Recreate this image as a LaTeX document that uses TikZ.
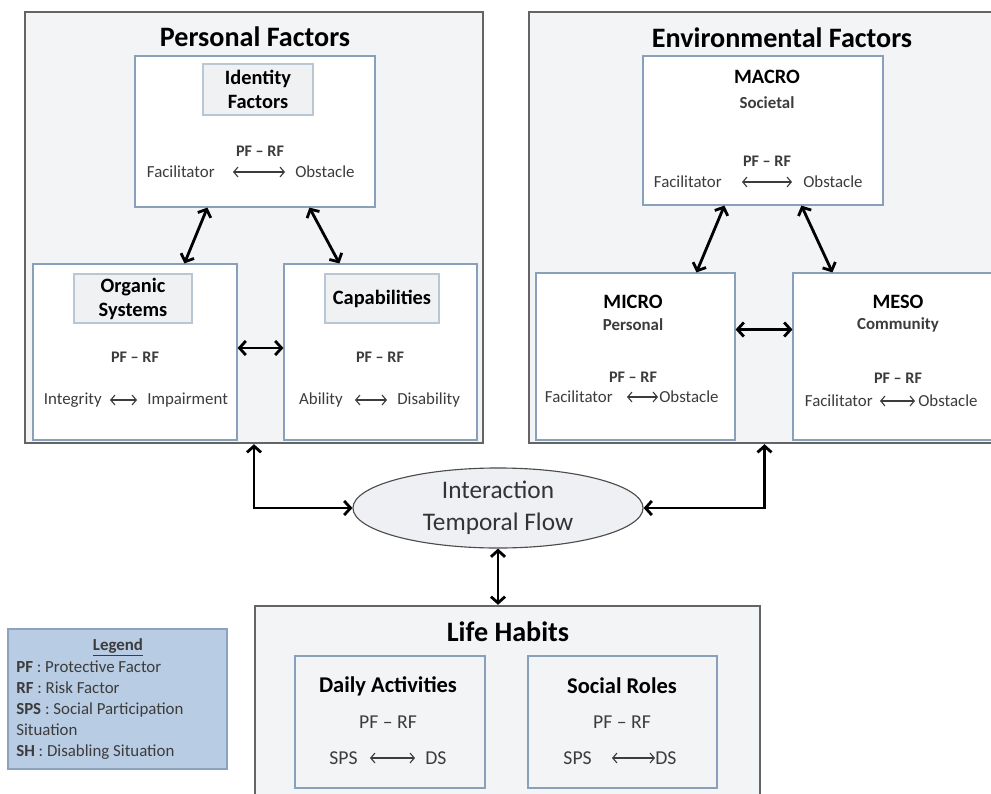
\documentclass[tikz,border=0pt]{standalone}
\usepackage{fontspec}
\setmainfont{Carlito}
\usepackage{tikz}
\usetikzlibrary{
  positioning,
  shapes.geometric,
  arrows.meta,
  calc
}
\usepackage{xcolor}
\definecolor{panelfill}{RGB}{243,244,246}
\definecolor{panelline}{RGB}{100,100,100}
\definecolor{boxline}{RGB}{137,160,186}
\definecolor{tagfill}{RGB}{240,241,243}
\definecolor{tagline}{RGB}{185,198,212}
\definecolor{legendfill}{RGB}{184,204,228}
\definecolor{legendline}{RGB}{140,162,190}
\definecolor{flowfill}{RGB}{238,240,243}
\definecolor{txtgray}{RGB}{60,60,60}
\newcommand{\fsz}[2]{\fontsize{#1}{#2}\selectfont}

\begin{document}
\begin{tikzpicture}[x=0.025cm,y=-0.025cm,
    panel/.style={draw=panelline,line width=1.6pt,fill=panelfill,inner sep=0pt},
    box/.style={draw=boxline,line width=0.8pt,fill=white,inner sep=0pt},
    subbox/.style={draw=boxline,line width=0.8pt,fill=panelfill,inner sep=0pt},
    tag/.style={draw=tagline,line width=0.8pt,fill=tagfill,inner sep=0pt,align=center,font=\fsz{14.5}{17}\bfseries},
    title/.style={font=\fsz{20}{24}\bfseries,inner sep=0pt},
    level/.style={font=\fsz{14.5}{17}\bfseries,inner sep=0pt},
    sublevel/.style={font=\fsz{12}{14}\bfseries,text=txtgray,inner sep=0pt},
    pfrf/.style={font=\fsz{11.5}{14}\bfseries,text=txtgray,inner sep=0pt},
    word/.style={font=\fsz{12}{14},text=txtgray,inner sep=0pt},
    bigword/.style={font=\fsz{14}{16},text=txtgray,inner sep=0pt},
    flow/.style={ellipse,draw=black!70,line width=0.8pt,fill=flowfill,inner sep=0pt,
      minimum width=7.25cm,minimum height=2cm,align=center,font=\fsz{18}{23},text=black!80},
    legendbox/.style={draw=legendline,line width=0.8pt,fill=legendfill,inner sep=0pt},
    bigarrow/.style={{Straight Barb[length=4.5pt,width=10pt]}-{Straight Barb[length=4.5pt,width=10pt]},line width=2pt},
    tinyarrow/.style={{Straight Barb[length=3pt,width=7pt]}-{Straight Barb[length=3pt,width=7pt]},line width=0.8pt,draw=txtgray}
  ]
    \clip (0,0) rectangle (991,794);

    % panels
    \node[panel,minimum width=11.45cm,minimum height=10.775cm] (pf) at (254,227.5) {};
    \node[panel,minimum width=11.775cm,minimum height=10.775cm] (ef) at (764.5,227.5) {};
    \node[panel,minimum width=12.625cm,minimum height=4.95cm] (lh) at (507.5,705) {};
    \node[title] (pft) at (255,37) {Personal Factors};
    \node[title] (eft) at (782,38) {Environmental Factors};
    \node[title] (lht) at (508,632) {Life Habits};

    % personal factors
    \node[box,minimum width=6cm,minimum height=3.775cm] (idf) at (255,131.5) {};
    \node[tag,minimum width=2.75cm,minimum height=1.275cm] (idtag) at (258,89.5) {Identity\\Factors};
    \node[pfrf] (p1) at (260,151) {PF -- RF};
    \node[word,anchor=east] (f1) at (215,172) {Facilitator};
    \node[word,anchor=west] (o1) at (295,172) {Obstacle};
    \draw[tinyarrow] ($(f1.east)+(18,0)$) -- ($(o1.west)+(-10,0)$);

    \node[box,minimum width=5.1cm,minimum height=4.4cm] (org) at (135,352) {};
    \node[tag,minimum width=2.95cm,minimum height=1.225cm] (orgtag) at (133,298.5) {Organic\\Systems};
    \node[pfrf] (p2) at (135,357) {PF -- RF};
    \node[word,anchor=east] (f2) at (102,400) {Integrity};
    \node[word,anchor=west] (o2) at (147,400) {Impairment};
    \draw[tinyarrow] ($(f2.east)+(8,0)$) -- ($(o2.west)+(-10,0)$);

    \node[box,minimum width=4.825cm,minimum height=4.4cm] (cap) at (380.5,352) {};
    \node[tag,minimum width=2.85cm,minimum height=1.225cm] (captag) at (382,298.5) {Capabilities};
    \node[pfrf] (p3) at (380,357) {PF -- RF};
    \node[word,anchor=east] (f3) at (343,400) {Ability};
    \node[word,anchor=west] (o3) at (397,400) {Disability};
    \draw[tinyarrow] ($(f3.east)+(12,0)$) -- ($(o3.west)+(-10,0)$);

    % environmental factors
    \node[box,minimum width=6cm,minimum height=3.725cm] (macro) at (763,130.5) {};
    \node[level] (mac1) at (767,77) {MACRO};
    \node[sublevel] (mac2) at (767,103) {Societal};
    \node[pfrf] (p4) at (767,161) {PF -- RF};
    \node[word,anchor=east] (f4) at (722,182) {Facilitator};
    \node[word,anchor=west] (o4) at (803,182) {Obstacle};
    \draw[tinyarrow] ($(f4.east)+(20,0)$) -- ($(o4.west)+(-11,0)$);

    \node[box,minimum width=4.975cm,minimum height=4.175cm] (micro) at (635.5,356.5) {};
    \node[level] (mic1) at (633,302) {MICRO};
    \node[sublevel] (mic2) at (633,325) {Personal};
    \node[pfrf] (p5) at (633,377) {PF -- RF};
    \node[word,anchor=east] (f5) at (613,397) {Facilitator};
    \node[word,anchor=west] (o5) at (659,397) {Obstacle};
    \draw[tinyarrow] ($(f5.east)+(14,0)$) -- ($(o5.west)+(-1,0)$);

    \node[box,minimum width=5cm,minimum height=4.175cm] (meso) at (893,356.5) {};
    \node[level] (mes1) at (898,302) {MESO};
    \node[sublevel] (mes2) at (898,325) {Community};
    \node[pfrf] (p6) at (898,378) {PF -- RF};
    \node[word,anchor=east] (f6) at (873,401) {Facilitator};
    \node[word,anchor=west] (o6) at (918,401) {Obstacle};
    \draw[tinyarrow] ($(f6.east)+(7,0)$) -- ($(o6.west)+(-3,0)$);

    % life habits
    \node[subbox,minimum width=4.75cm,minimum height=3.3cm] (daily) at (390,722) {};
    \node[font=\fsz{16}{19}\bfseries,inner sep=0pt] (dat) at (388,686) {Daily Activities};
    \node[bigword] (p7) at (388,722) {PF -- RF};
    \node[bigword,anchor=east] (f7) at (358,758) {SPS};
    \node[bigword,anchor=west] (o7) at (425,758) {DS};
    \draw[tinyarrow] ($(f7.east)+(12,0)$) -- ($(o7.west)+(-10,0)$);

    \node[subbox,minimum width=4.725cm,minimum height=3.3cm] (social) at (622.5,722) {};
    \node[font=\fsz{16}{19}\bfseries,inner sep=0pt] (srt) at (622,686) {Social Roles};
    \node[bigword] (p8) at (622,722) {PF -- RF};
    \node[bigword,anchor=east] (f8) at (592,758) {SPS};
    \node[bigword,anchor=west] (o8) at (655,758) {DS};
    \draw[tinyarrow] ($(f8.east)+(20,0)$) -- ($(o8.west)+(0,0)$);

    % interaction
    \node[flow] (flow) at (498,508) {Interaction\\Temporal Flow};

    % legend
    \node[legendbox,minimum width=5.475cm,minimum height=3.5cm] (leg) at (117.5,699) {};
    \node[font=\fsz{12}{14}\bfseries,text=txtgray,inner sep=0pt] (legt) at (118,647) {\underline{Legend}};
    \node[font=\fsz{12}{15},text=txtgray,align=left,anchor=west,inner sep=0pt] (legx) at (16,710)
      {\textbf{PF} : Protective Factor\\ \textbf{RF} : Risk Factor\\ \textbf{SPS} : Social Participation\\ Situation\\ \textbf{SH} : Disabling Situation};

    % connectors
    \draw[bigarrow] ($(idf.south west)+(73,0)$) -- ($(org.north west)+(152,0)$);
    \draw[bigarrow] ($(idf.south west)+(175,0)$) -- ($(cap.north west)+(56,0)$);
    \draw[bigarrow] ($(org.east)+(0,-4)$) -- ($(cap.west)+(0,-4)$);
    \draw[bigarrow] ($(macro.south west)+(82,0)$) -- ($(micro.north west)+(161,0)$);
    \draw[bigarrow] ($(macro.south west)+(159,0)$) -- ($(meso.north west)+(40,0)$);
    \draw[bigarrow] ($(micro.east)+(0,-27)$) -- ($(meso.west)+(0,-27)$);
    \draw[bigarrow] (pf.south) |- (flow.west);
    \draw[bigarrow] (ef.south) |- (flow.east);
    \draw[bigarrow] (flow.south) -- (flow.south |- lh.north);
\end{tikzpicture}
\end{document}
